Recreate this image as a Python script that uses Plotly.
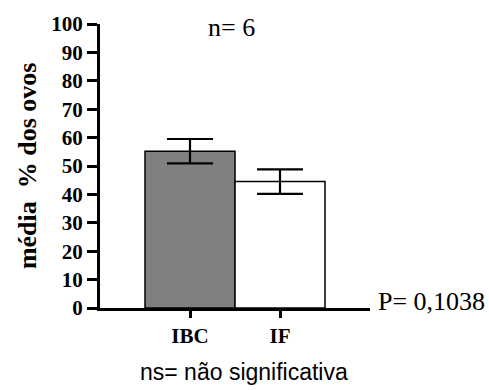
import plotly.graph_objects as go

categories = ["IBC", "IF"]
means = [55.2, 44.5]
sem = [4.3, 4.3]
bar_colors = ["#808080", "#ffffff"]
y_ticks = [0, 10, 20, 30, 40, 50, 60, 70, 80, 90, 100]

fig = go.Figure()
fig.add_trace(go.Bar(
    x=categories, y=means, width=1.0,
    marker=dict(color=bar_colors, line=dict(color="black", width=1.5)),
    error_y=dict(type="data", array=sem, color="black", thickness=2.2, width=23),
))

serif = "Liberation Serif"

fig.update_layout(
    width=489, height=390,
    margin=dict(l=100, r=119, t=24, b=82),
    paper_bgcolor="white", plot_bgcolor="white",
    showlegend=False,
    xaxis=dict(range=[-1, 2], showline=True, linecolor="black", linewidth=3,
               tickvals=categories, ticktext=["<b>%s</b>" % c for c in categories],
               ticks="outside", ticklen=7, tickwidth=3, tickcolor="black",
               tickfont=dict(family=serif, size=21, color="black"),
               showgrid=False, zeroline=False),
    yaxis=dict(range=[0, 100], tickvals=y_ticks, ticktext=["<b>%d</b>" % v for v in y_ticks],
               showline=True, linecolor="black", linewidth=3,
               ticks="outside", ticklen=10, tickwidth=3, tickcolor="black",
               tickfont=dict(family=serif, size=21, color="black"),
               showgrid=False, zeroline=False),
    annotations=[
        dict(text="<b>média  % dos ovos</b>", xref="paper", yref="paper", x=-0.27, y=0.5,
             xanchor="center", yanchor="middle", textangle=-90, showarrow=False,
             font=dict(family=serif, size=26, color="black")),
        dict(text="n= 6", xref="paper", yref="paper", x=(231 - 100) / 270, y=(308 - 28) / 284,
             xanchor="center", yanchor="middle", showarrow=False,
             font=dict(family=serif, size=26, color="black")),
        dict(text="P= 0,1038", xref="paper", yref="paper", x=(376 - 100) / 270, y=(308 - 301) / 284,
             xanchor="left", yanchor="middle", showarrow=False,
             font=dict(family=serif, size=26, color="black")),
        dict(text="ns= não significativa", xref="paper", yref="paper", x=(244 - 100) / 270,
             y=(308 - 372) / 284, xanchor="center", yanchor="middle", showarrow=False,
             font=dict(family="Liberation Sans", size=23, color="black")),
    ],
)

fig.write_html("out.html")
